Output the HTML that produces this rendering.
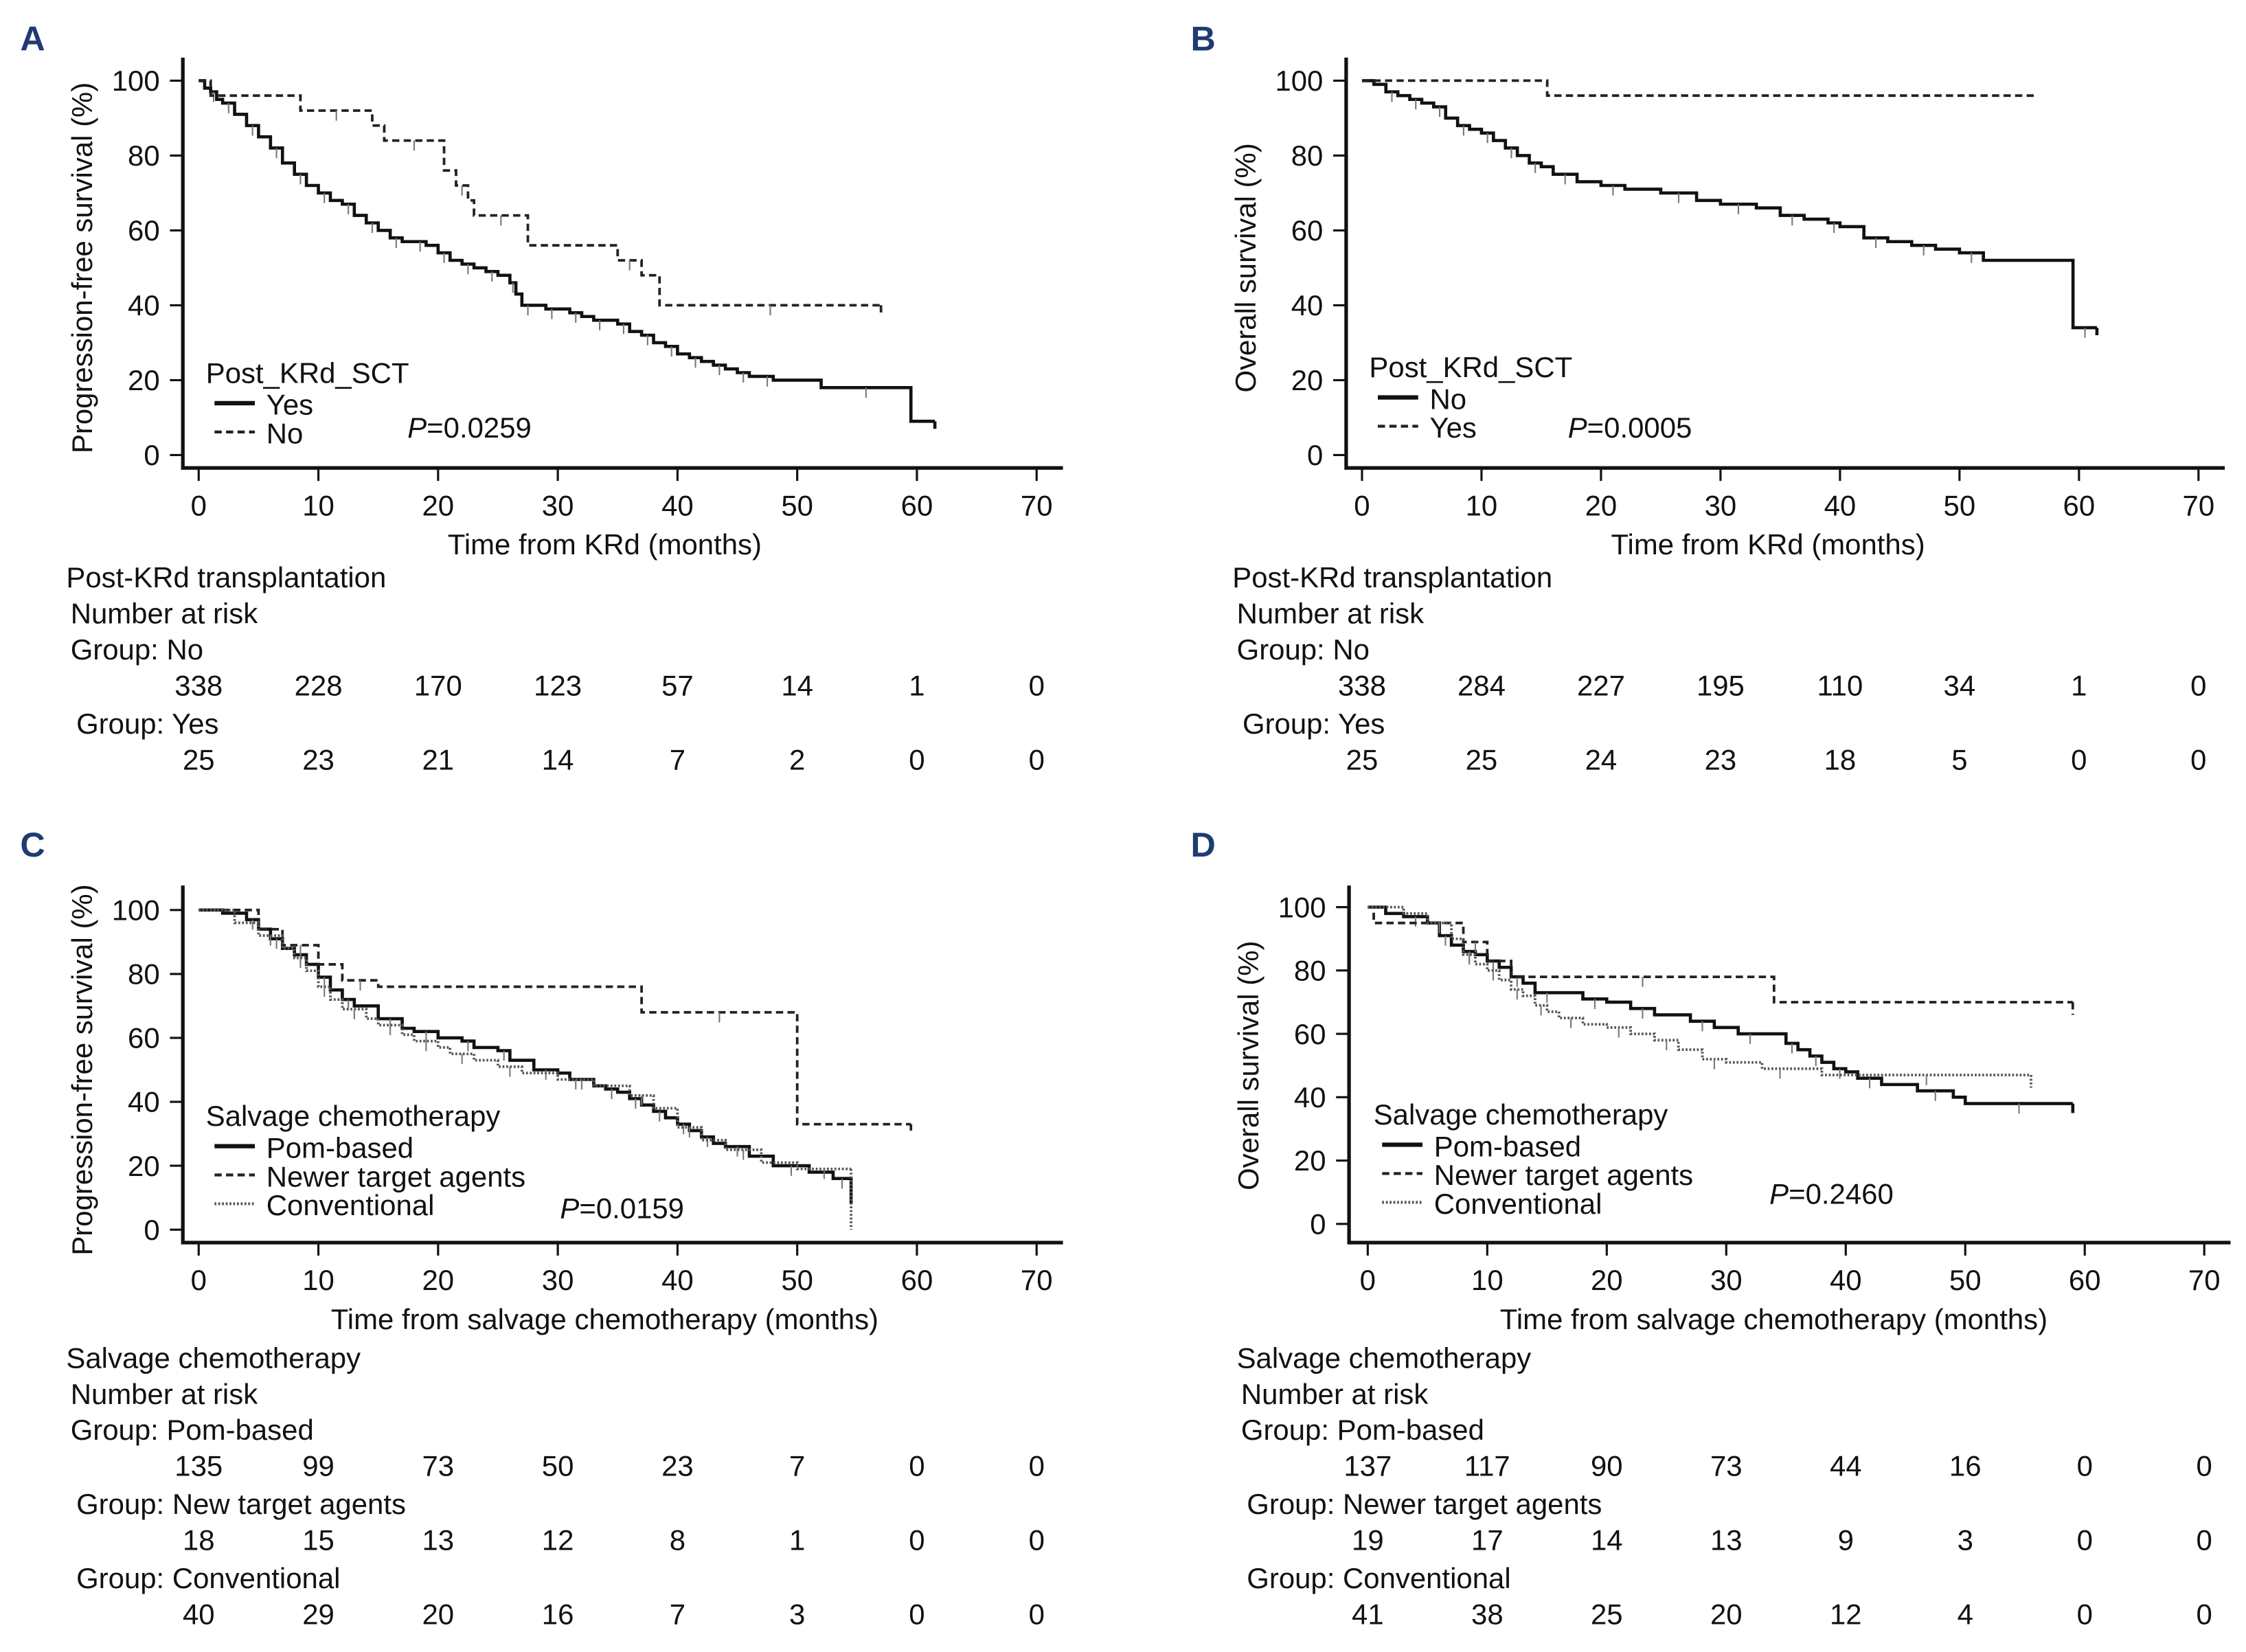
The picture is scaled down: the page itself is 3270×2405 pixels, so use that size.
<!DOCTYPE html>
<html><head><meta charset="utf-8">
<style>
html,body{margin:0;padding:0;background:#fff;}
svg{display:block;}
text{font-family:"Liberation Sans",Arial,sans-serif;fill:#111;}
</style></head>
<body>
<svg id="fig" width="3270" height="2405" viewBox="0 0 1560 1147.3" preserveAspectRatio="none" xmlns="http://www.w3.org/2000/svg"></svg>
<script>
// ---------- data ----------
const xTicks = [0,10,20,30,40,50,60,70];
const yTicks = [0,20,40,60,80,100];

const aYesT = [0,0.5,1,1.5,2,3,4,5,6,7,8,9,10,11,12,13,14,15,16,17,18,19,20,21,22,23,24,25,26,26.5,27,28,29,30,31,32,33,34,35,36,37,38,39,40,41,42,43,44,45,46,47,48,52,59.5,61.5];
const aYesS = [100,98,97,95,94,91,88,85,82,78,75,72,70,68,67,64,62,60,58,57,57,56,54,52,51,50,49,48,46,43,40,40,39,39,38,37,36,36,35,33,32,30,29,27,26,25,24,23,22,21,21,20,18,9,9];
const aNoT = [0,1,8.5,14.5,15.5,20.5,21.5,22.5,23,27.5,35,37,38.5,57];
const aNoS = [100,96,92,88,84,76,72,68,64,56,52,48,40,40];

const bNoT = [0,1,2,3,4,5,6,7,8,9,10,11,12,13,14,15,16,18,20,22,25,28,30,33,35,37,39,40,42,44,46,48,50,52,59.5,61.5];
const bNoS = [100,99,97,96,95,94,93,90,88,87,86,84,82,80,78,77,75,73,72,71,70,68,67,66,64,63,62,61,58,57,56,55,54,52,34,34];
const bYesT = [0,15.5,56.5];
const bYesS = [100,96,96];

const cPomT = [0,2,4,5,6,7,8,9,10,11,12,13,15,17,18,20,22,23,25,26,28,30,31,33,34,35,36,37,38,39,40,41,42,43,44,46,48,51,53,54.5];
const cPomS = [100,99,97,94,91,88,86,83,79,75,72,70,66,63,62,60,59,57,56,53,50,49,47,45,44,43,41,39,37,35,33,31,29,27,26,23,20,18,16,14];
const cNewT = [0,5,7,10,12,15,37,50,59.5];
const cNewS = [100,94,89,83,78,76,68,33,33];
const cConT = [0,3,5,7,8,9,10,11,12,14,15,17,18,20,21,23,25,27,30,33,36,38,40,42,44,47,50,54.5];
const cConS = [100,96,92,88,85,81,76,72,69,66,64,61,59,57,55,53,51,49,47,45,42,38,32,28,25,21,19,19];

const dPomT = [0,1.5,3,5,6,7,8,9,10,11,12,13,14,16,18,20,22,24,27,29,31,33,35,36,37,38,39,40,41,43,46,49,50,59];
const dPomS = [100,98,97,95,91,88,86,85,83,81,78,76,73,73,71,70,68,66,64,62,60,60,57,55,53,51,49,48,46,44,42,40,38,38];
const dNewT = [0,0.5,8,10,12,34,59];
const dNewS = [100,95,89,83,78,70,70];
const dConT = [0,3,5,7,8,9,10,11,12,13,14,15,16,18,20,22,24,26,28,30,33,36,38,55.5];
const dConS = [100,98,95,90,85,82,80,77,74,72,69,67,65,63,62,60,58,55,52,51,49,49,47,47];

const riskA1 = [338,228,170,123,57,14,1,0];
const riskA2 = [25,23,21,14,7,2,0,0];
const riskB1 = [338,284,227,195,110,34,1,0];
const riskB2 = [25,25,24,23,18,5,0,0];
const riskC1 = [135,99,73,50,23,7,0,0];
const riskC2 = [18,15,13,12,8,1,0,0];
const riskC3 = [40,29,20,16,7,3,0,0];
const riskD1 = [137,117,90,73,44,16,0,0];
const riskD2 = [19,17,14,13,9,3,0,0];
const riskD3 = [41,38,25,20,12,4,0,0];

// ---------- drawing ----------
const NS="http://www.w3.org/2000/svg";
const svg=document.getElementById('fig');
function el(tag,attrs,parent){const e=document.createElementNS(NS,tag);for(const k in attrs)e.setAttribute(k,attrs[k]);(parent||svg).appendChild(e);return e;}
function txt(s,x,y,size,anchor,parent,extra){const t=el('text',Object.assign({x:x,y:y,'font-size':size,'text-anchor':anchor||'start'},extra||{}),parent);t.textContent=s;return t;}
const styles={solid:{stroke:'#111','stroke-width':2.2,'stroke-dasharray':'none'},dash:{stroke:'#222','stroke-width':1.8,'stroke-dasharray':'5,3'},dot:{stroke:'#555','stroke-width':1.8,'stroke-dasharray':'1.3,1.3'}};

function panel(p){
  const g=el('g',{});
  
  
  const X=t=>p.x0+(p.x70-p.x0)*t/70;
  const Y=v=>p.y0+(p.y100-p.y0)*v/100;
  const L=txt(p.letter,p.letterX,p.letterY,24,'start',g,{'font-weight':'bold',style:'fill:#1f3b73'});
  
  
  const ax=el('path',{d:`M${p.ax} ${p.axTop} V${p.ay} H${X(72.2)}`,stroke:'#111','stroke-width':2.5,fill:'none'},g);
  
  
  xTicks.forEach(t=>{
    el('line',{x1:X(t),x2:X(t),y1:p.ay,y2:p.ay+9,stroke:'#111','stroke-width':1.5},g);
    const tl=txt(String(t),X(t),p.ay+33,20,'middle',g);
    
    
  });
  yTicks.forEach(v=>{
    el('line',{x1:p.ax-9,x2:p.ax,y1:Y(v),y2:Y(v),stroke:'#111','stroke-width':1.5},g);
    const tl=txt(String(v),p.ax-16,Y(v)+7,20,'end',g);
    
    
  });
  const yt=txt(p.ytitle,0,0,20,'middle',g,{transform:`translate(${p.ax-63},${(Y(0)+Y(100))/2}) rotate(-90)`});
  
  
  const xt=txt(p.xtitle,p.xtitleX,p.ay+60,20,'middle',g);
  
  
  p.series.forEach(s=>{
    let d=`M${X(s.t[0])} ${Y(s.s[0])}`;
    for(let i=1;i<s.t.length;i++){d+=` H${X(s.t[i])} V${Y(s.s[i])}`;}
    const path=el('path',Object.assign({d:d,fill:'none'},styles[s.style]),g);
    
    
    for(let i=2;i<s.t.length-1;i+=2){
      const cx=(X(s.t[i])+X(s.t[i+1]))/2;
      el('line',{x1:cx,x2:cx,y1:Y(s.s[i]),y2:Y(s.s[i])+7,stroke:'#777','stroke-width':1},g);
    }
    if(s.endDrop!==undefined){
      const lt=s.t[s.t.length-1];
      el('line',Object.assign({x1:X(lt),x2:X(lt),y1:Y(s.s[s.s.length-1]),y2:Y(s.endDrop)},styles[s.style]),g);
    }
  });
  const lg=el('g',{},g);
  
  
  txt(p.legTitle,p.legX,p.legY,20,'start',lg);
  p.series.forEach((s,i)=>{
    const yy=p.legY+p.legDy*(i+1);
    const seg=el('line',Object.assign({x1:p.legX+6,x2:p.legX+34,y1:yy-6,y2:yy-6},styles[s.style],{'stroke-width':s.style==='solid'?3:2}),lg);
    
    
    txt(s.label,p.legX+42,yy+2,20,'start',lg);
  });
  const pv=el('text',{x:p.pX,y:p.pY,'font-size':20},g);
  
  
  const pi=document.createElementNS(NS,'tspan');pi.setAttribute('font-style','italic');pi.textContent='P';pv.appendChild(pi);
  pv.appendChild(document.createTextNode('='+p.pval));
  const rt=el('g',{},g);
  
  
  txt(p.riskTitle,p.rX,p.rY,20,'start',rt);
  txt('Number at risk',p.rX+3,p.rY+25,20,'start',rt);
  p.risk.forEach((r,i)=>{
    const gy=p.rY+50+i*51.5;
    txt(r.label,p.rX+3+(i>0?4:0),gy,20,'start',rt);
    r.vals.forEach((v,k)=>{txt(String(v),X(xTicks[k]),gy+25,20,'middle',rt);});
  });
}

panel({name:'panel-a-pfs-transplant',letter:'A',letterX:14,letterY:35,x0:138,x70:720,y0:316,y100:56,ax:127,axTop:40,ay:325,
  ytitle:'Progression-free survival (%)',xtitle:'Time from KRd (months)',xtitleX:420,
  series:[{name:'curve-yes',t:aYesT,s:aYesS,style:'solid',label:'Yes',endDrop:7},{name:'curve-no',t:aNoT,s:aNoS,style:'dash',label:'No',endDrop:38}],
  legTitle:'Post_KRd_SCT',legX:143,legY:266,legDy:20,pX:283,pY:304,pval:'0.0259',
  riskTitle:'Post-KRd transplantation',rX:46,rY:408,
  risk:[{label:'Group: No',vals:riskA1},{label:'Group: Yes',vals:riskA2}]});

panel({name:'panel-b-os-transplant',letter:'B',letterX:827,letterY:35,x0:946,x70:1527,y0:316,y100:56,ax:935,axTop:40,ay:325,
  ytitle:'Overall survival (%)',xtitle:'Time from KRd (months)',xtitleX:1228,
  series:[{name:'curve-no',t:bNoT,s:bNoS,style:'solid',label:'No',endDrop:32},{name:'curve-yes',t:bYesT,s:bYesS,style:'dash',label:'Yes'}],
  legTitle:'Post_KRd_SCT',legX:951,legY:262,legDy:20,pX:1089,pY:304,pval:'0.0005',
  riskTitle:'Post-KRd transplantation',rX:856,rY:408,
  risk:[{label:'Group: No',vals:riskB1},{label:'Group: Yes',vals:riskB2}]});

panel({name:'panel-c-pfs-salvage',letter:'C',letterX:14,letterY:595,x0:138,x70:720,y0:854,y100:632,ax:127,axTop:615,ay:863,
  ytitle:'Progression-free survival (%)',xtitle:'Time from  salvage chemotherapy (months)',xtitleX:420,
  series:[{name:'curve-pom-based',t:cPomT,s:cPomS,style:'solid',label:'Pom-based',endDrop:8},{name:'curve-newer-target-agents',t:cNewT,s:cNewS,style:'dash',label:'Newer target agents',endDrop:31},{name:'curve-conventional',t:cConT,s:cConS,style:'dot',label:'Conventional',endDrop:0}],
  legTitle:'Salvage chemotherapy',legX:143,legY:782,legDy:20,pX:389,pY:846,pval:'0.0159',
  riskTitle:'Salvage chemotherapy',rX:46,rY:950,
  risk:[{label:'Group: Pom-based',vals:riskC1},{label:'Group: New target agents',vals:riskC2},{label:'Group: Conventional',vals:riskC3}]});

panel({name:'panel-d-os-salvage',letter:'D',letterX:827,letterY:595,x0:950,x70:1531,y0:850,y100:630,ax:937,axTop:615,ay:863,
  ytitle:'Overall survival (%)',xtitle:'Time from  salvage chemotherapy (months)',xtitleX:1232,
  series:[{name:'curve-pom-based',t:dPomT,s:dPomS,style:'solid',label:'Pom-based',endDrop:35},{name:'curve-newer-target-agents',t:dNewT,s:dNewS,style:'dash',label:'Newer target agents',endDrop:66},{name:'curve-conventional',t:dConT,s:dConS,style:'dot',label:'Conventional',endDrop:43}],
  legTitle:'Salvage chemotherapy',legX:954,legY:781,legDy:20,pX:1229,pY:836,pval:'0.2460',
  riskTitle:'Salvage chemotherapy',rX:859,rY:950,
  risk:[{label:'Group: Pom-based',vals:riskD1},{label:'Group: Newer target agents',vals:riskD2},{label:'Group: Conventional',vals:riskD3}]});
</script>
</body></html>
